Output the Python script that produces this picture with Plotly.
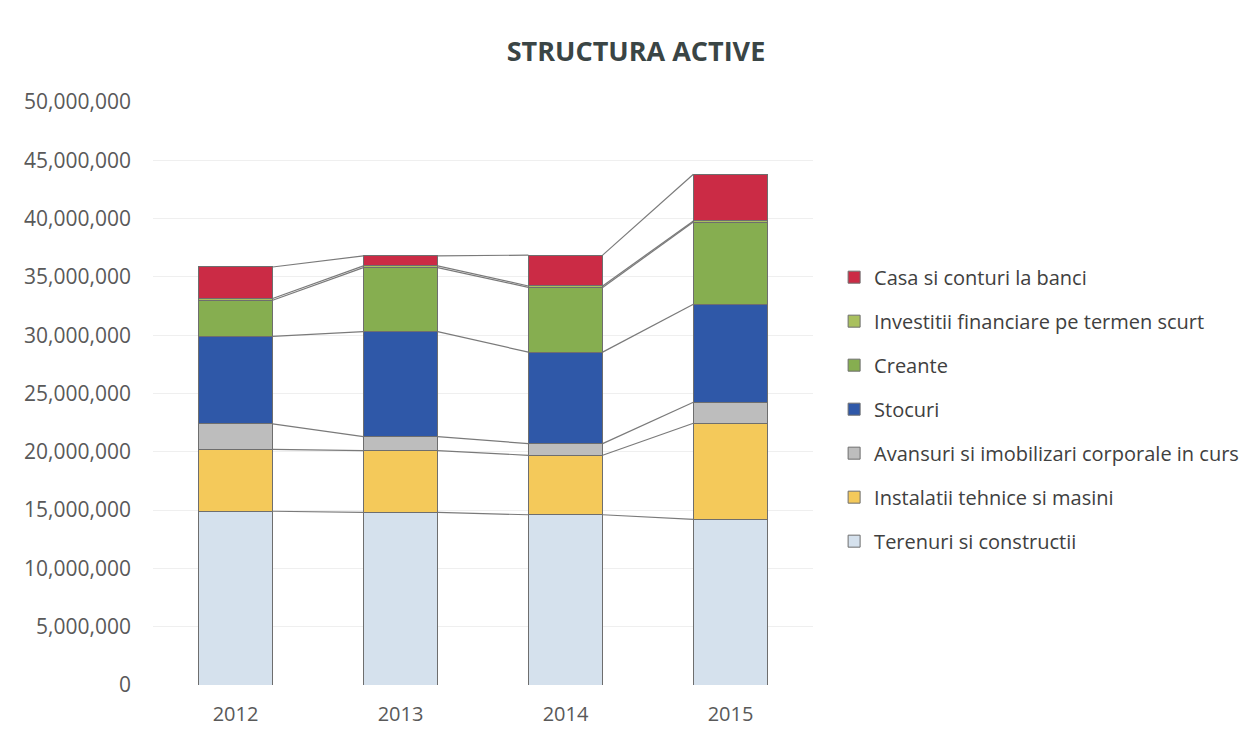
import plotly.graph_objects as go

years = ["2012", "2013", "2014", "2015"]

series_names = [
    "Terenuri si constructii",
    "Instalatii tehnice si masini",
    "Avansuri si imobilizari corporale in curs",
    "Stocuri",
    "Creante",
    "Investitii financiare pe termen scurt",
    "Casa si conturi la banci",
]

terenuri = [14_900_000, 14_800_000, 14_600_000, 14_200_000]
instalatii = [5_300_000, 5_300_000, 5_100_000, 8_250_000]
avansuri = [2_200_000, 1_200_000, 1_000_000, 1_800_000]
stocuri = [7_500_000, 9_000_000, 7_850_000, 8_400_000]
creante = [3_100_000, 5_500_000, 5_550_000, 7_050_000]
investitii = [150_000, 150_000, 120_000, 100_000]
casa = [2_700_000, 850_000, 2_650_000, 4_000_000]

series_values = [terenuri, instalatii, avansuri, stocuri, creante, investitii, casa]
colors = ["#D5E1ED", "#F4C95A", "#BDBDBD", "#2F58A8", "#86AE50", "#A9C05E", "#CB2B45"]

y_ticks = [0, 5_000_000, 10_000_000, 15_000_000, 20_000_000, 25_000_000,
           30_000_000, 35_000_000, 40_000_000, 45_000_000, 50_000_000]

BAR_W = 0.45
FONT = "Open Sans"
x_pos = list(range(len(years)))
n = len(series_names)

fig = go.Figure()

for k, (name, vals, col) in enumerate(zip(series_names, series_values, colors)):
    fig.add_trace(go.Bar(
        x=x_pos, y=vals, name=name, width=BAR_W,
        marker=dict(color=col, line=dict(color="#6E6E6E", width=1)),
        legendgroup=name, legendrank=n - k,
    ))

# series lines connecting cumulative tops between adjacent bars
cum = [0] * len(years)
for vals in series_values:
    cum = [c + v for c, v in zip(cum, vals)]
    xs, ys = [], []
    for i in range(len(years) - 1):
        xs += [x_pos[i] + BAR_W / 2, x_pos[i + 1] - BAR_W / 2, None]
        ys += [cum[i], cum[i + 1], None]
    fig.add_trace(go.Scatter(
        x=xs, y=ys, mode="lines", showlegend=False, hoverinfo="skip",
        line=dict(color="#7A7A7A", width=1.2),
    ))

fig.update_layout(
    width=1252, height=740,
    barmode="stack",
    paper_bgcolor="white", plot_bgcolor="white",
    margin=dict(l=145, r=447, t=94, b=63),
    font=dict(family=FONT, size=20, color="#595959"),
    title=dict(
        text="<b>STRUCTURA ACTIVE</b>",
        x=628 / 1252, xanchor="center", xref="container",
        y=1 - 44 / 740, yanchor="middle", yref="container",
        font=dict(family=FONT, size=27, color="#3A4545"),
    ),
    xaxis=dict(
        range=[-0.5, len(years) - 0.5],
        tickvals=x_pos, ticktext=years,
        showgrid=False, zeroline=False, showline=False,
        ticks="", ticklabelstandoff=15,
        tickfont=dict(size=20),
    ),
    yaxis=dict(
        range=[0, 50_000_000],
        tickvals=y_ticks, tickformat=",d",
        showgrid=True, gridcolor="#EFEFEF", gridwidth=1,
        zeroline=False, showline=False, ticks="",
        ticklabelstandoff=21,
        tickfont=dict(size=21),
    ),
    legend=dict(
        x=1.032, xanchor="left", y=0.733, yanchor="top",
        traceorder="grouped", tracegroupgap=15,
        font=dict(family=FONT, size=20, color="#404040"),
        itemwidth=30,
    ),
)

fig.write_html("out.html")
